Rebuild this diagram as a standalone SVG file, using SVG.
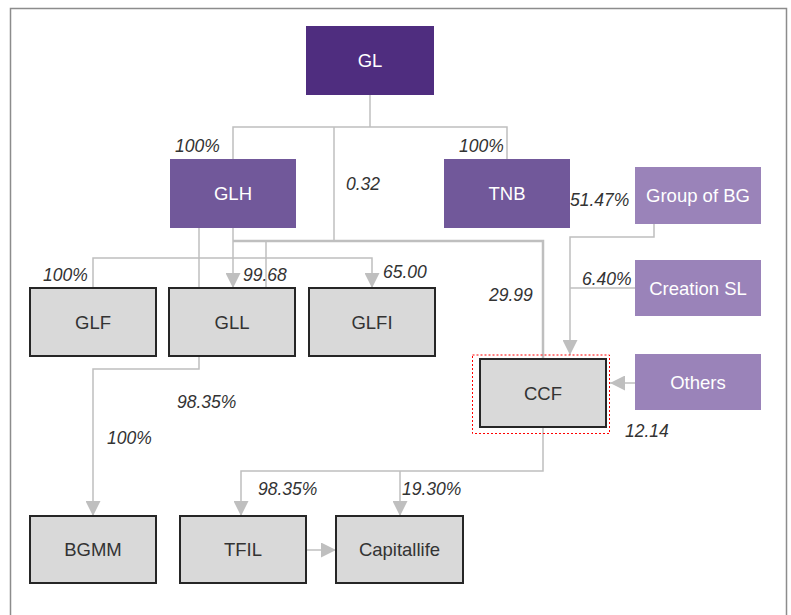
<svg xmlns="http://www.w3.org/2000/svg" width="791" height="615" viewBox="0 0 791 615">
<style>
.frame{fill:none;stroke:#8c8c8c;stroke-width:1.5}
.dk{fill:#4f2d7f}
.md{fill:#71589a}
.lt{fill:#9a83b9}
.gr{fill:#d9d9d9;stroke:#262626;stroke-width:2}
.wt{font-family:"Liberation Sans",Arial,sans-serif;font-size:18.5px;fill:#ffffff;text-anchor:middle}
.bt{font-family:"Liberation Sans",Arial,sans-serif;font-size:18.5px;fill:#333333;text-anchor:middle}
.lb{font-family:"Liberation Sans",Arial,sans-serif;font-size:17.5px;font-style:italic;fill:#333333}
.cn{fill:none;stroke:#bfbfbf;stroke-width:1.5}
.thick{stroke-width:2.5}
.ar{marker-end:url(#ah)}
</style>
<defs>
<marker id="ah" markerUnits="userSpaceOnUse" markerWidth="15" markerHeight="15" viewBox="0 0 15 15" refX="15" refY="7.5" orient="auto">
<path d="M0,0 L15,7.5 L0,15 z" fill="#bfbfbf"/>
</marker>
</defs>
<rect width="791" height="615" fill="#ffffff"/>
<path class="frame" d="M10.5,615 V8.5 H786.5 V615"/>
<g id="connectors">
<path class="cn" d="M370,95 V127"/>
<path class="cn" d="M233,159 V127 H507 V159"/>
<path class="cn" d="M334,127 V241"/>
<path class="cn thick" d="M233,241 H543 V359"/>
<path class="cn ar" d="M233,228 V288"/>
<path class="cn" d="M266,241 V288"/>
<path class="cn" d="M199,228 V288"/>
<path class="cn ar" d="M93,288 V258 H372 V288"/>
<path class="cn ar" d="M654,224 V237 H570 V355"/>
<path class="cn" d="M635,288 H570"/>
<path class="cn ar" d="M635,383 H610"/>
<path class="cn ar" d="M199,356 V369 H93 V516"/>
<path class="cn ar" d="M543,427 V471 H241 V516"/>
<path class="cn ar" d="M400,471 V516"/>
<path class="cn ar" d="M306,550 H336"/>
</g>
<g id="GL"><rect class="dk" x="306" y="26" width="128" height="69"/><text class="wt" x="370" y="67">GL</text></g>
<g id="GLH"><rect class="md" x="170" y="159" width="126" height="69"/><text class="wt" x="233" y="200">GLH</text></g>
<g id="TNB"><rect class="md" x="444" y="159" width="126" height="69"/><text class="wt" x="507" y="200">TNB</text></g>
<g id="GroupBG"><rect class="lt" x="635" y="167" width="126" height="57"/><text class="wt" x="698" y="202">Group of BG</text></g>
<g id="CreationSL"><rect class="lt" x="635" y="260" width="126" height="56"/><text class="wt" x="698" y="295">Creation SL</text></g>
<g id="Others"><rect class="lt" x="635" y="354" width="126" height="56"/><text class="wt" x="698" y="389">Others</text></g>
<g id="GLF"><rect class="gr" x="30" y="288" width="126" height="68"/><text class="bt" x="93" y="329">GLF</text></g>
<g id="GLL"><rect class="gr" x="169" y="288" width="126" height="68"/><text class="bt" x="232" y="329">GLL</text></g>
<g id="GLFI"><rect class="gr" x="309" y="288" width="126" height="68"/><text class="bt" x="372" y="329">GLFI</text></g>
<g id="CCF"><rect x="472.5" y="355" width="137" height="78.5" fill="none" stroke="#ff0000" stroke-width="1" stroke-dasharray="2,2"/><rect class="gr" x="480" y="359" width="126" height="68"/><text class="bt" x="543" y="400">CCF</text></g>
<g id="BGMM"><rect class="gr" x="30" y="516" width="126" height="67"/><text class="bt" x="93" y="556">BGMM</text></g>
<g id="TFIL"><rect class="gr" x="180" y="516" width="126" height="67"/><text class="bt" x="243" y="556">TFIL</text></g>
<g id="Capitallife"><rect class="gr" x="336" y="516" width="127" height="67"/><text class="bt" x="399.5" y="556">Capitallife</text></g>
<g id="labels">
<text class="lb" x="175" y="152">100%</text>
<text class="lb" x="459" y="152">100%</text>
<text class="lb" x="346" y="190">0.32</text>
<text class="lb" x="570" y="206">51.47%</text>
<text class="lb" x="43" y="281">100%</text>
<text class="lb" x="243" y="281">99.68</text>
<text class="lb" x="383" y="278">65.00</text>
<text class="lb" x="489" y="301">29.99</text>
<text class="lb" x="582" y="285">6.40%</text>
<text class="lb" x="625" y="437">12.14</text>
<text class="lb" x="177" y="408">98.35%</text>
<text class="lb" x="107" y="444">100%</text>
<text class="lb" x="258" y="495">98.35%</text>
<text class="lb" x="402" y="495">19.30%</text>
</g>
</svg>
